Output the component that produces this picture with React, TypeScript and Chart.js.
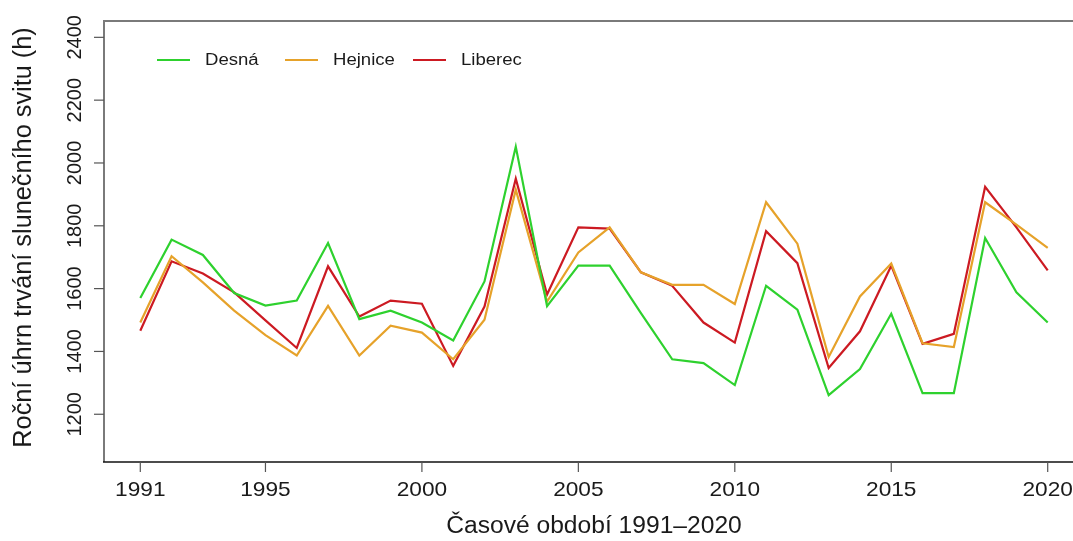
import React, { useEffect, useRef } from "react";
import { Chart, registerables } from "chart.js";

Chart.register(...registerables);

const years = [
  1991, 1992, 1993, 1994, 1995, 1996, 1997, 1998, 1999, 2000,
  2001, 2002, 2003, 2004, 2005, 2006, 2007, 2008, 2009, 2010,
  2011, 2012, 2013, 2014, 2015, 2016, 2017, 2018, 2019, 2020,
];
const desna = [
  1570, 1756, 1707, 1586, 1546, 1562, 1745, 1503, 1530, 1492,
  1435, 1623, 2052, 1544, 1673, 1673, 1522, 1375, 1363, 1293,
  1609, 1533, 1261, 1344, 1520, 1267, 1267, 1761, 1588, 1492,
];
const hejnice = [
  1492, 1703, 1620, 1530, 1452, 1387, 1545, 1387, 1482, 1460,
  1375, 1501, 1915, 1559, 1715, 1795, 1652, 1612, 1612, 1551,
  1875, 1743, 1382, 1575, 1680, 1426, 1414, 1875, 1804, 1730,
];
const liberec = [
  1466, 1687, 1648, 1588, 1499, 1411, 1671, 1511, 1562, 1552,
  1354, 1543, 1950, 1581, 1795, 1791, 1652, 1609, 1492, 1428,
  1783, 1681, 1347, 1464, 1673, 1424, 1456, 1924, 1795, 1658,
];
const seriesNames = ["Desná", "Hejnice", "Liberec"];
const seriesColors = ["#2ED12E", "#E6A22A", "#CC1A22"];
const yTicks = [1200, 1400, 1600, 1800, 2000, 2200, 2400];
const xTicks = [1991, 1995, 2000, 2005, 2010, 2015, 2020];
const xTitle = "Časové období 1991–2020";
const yTitle = "Roční úhrn trvání slunečního svitu (h)";

const FONT = "'Liberation Sans', Arial, sans-serif";

const axesPlugin = {
  id: "rAxes",
  afterDraw(chart: any) {
    const { ctx, chartArea } = chart;
    const xs = chart.scales.x;
    const ys = chart.scales.y;
    const { left, top, right, bottom } = chartArea;
    ctx.save();
    // box (grey) left & top & right
    ctx.strokeStyle = "#7a7a7a";
    ctx.lineWidth = 2;
    ctx.beginPath();
    ctx.moveTo(left, bottom);
    ctx.lineTo(left, top);
    ctx.lineTo(right, top);
    ctx.lineTo(right, bottom);
    ctx.stroke();
    // bottom axis line black
    ctx.strokeStyle = "#111";
    ctx.lineWidth = 1.5;
    ctx.beginPath();
    ctx.moveTo(left - 1, bottom);
    ctx.lineTo(right, bottom);
    ctx.stroke();

    // y ticks
    ctx.strokeStyle = "#555";
    ctx.lineWidth = 1.2;
    ctx.fillStyle = "#1a1a1a";
    ctx.textAlign = "center";
    ctx.textBaseline = "middle";
    ctx.font = `20px ${FONT}`;
    for (const v of yTicks) {
      const py = ys.getPixelForValue(v);
      ctx.beginPath();
      ctx.moveTo(left - 10, py);
      ctx.lineTo(left, py);
      ctx.stroke();
      ctx.save();
      ctx.translate(left - 29, py);
      ctx.rotate(-Math.PI / 2);
      ctx.fillText(String(v), 0, 0);
      ctx.restore();
    }
    // x ticks
    ctx.font = `21px ${FONT}`;
    for (const v of xTicks) {
      const px = xs.getPixelForValue(v);
      ctx.beginPath();
      ctx.moveTo(px, bottom);
      ctx.lineTo(px, bottom + 10);
      ctx.stroke();
      ctx.save();
      ctx.translate(px, bottom + 28);
      ctx.scale(1.08, 1);
      ctx.fillText(String(v), 0, 0);
      ctx.restore();
    }
    // titles
    ctx.save();
    ctx.font = `23px ${FONT}`;
    ctx.translate((left + right) / 2, bottom + 65);
    ctx.scale(1.07, 1);
    ctx.fillText(xTitle, 0, 0);
    ctx.restore();
    ctx.save();
    ctx.font = `25.3px ${FONT}`;
    ctx.translate(left - 80, (top + bottom) / 2 - 4);
    ctx.rotate(-Math.PI / 2);
    ctx.fillText(yTitle, 0, 0);
    ctx.restore();

    // legend
    const legY = top + 39;
    const legStarts = [157, 285, 413];
    ctx.font = `16px ${FONT}`;
    ctx.textAlign = "left";
    ctx.lineWidth = 2;
    seriesNames.forEach((name, i) => {
      const x0 = legStarts[i];
      ctx.strokeStyle = seriesColors[i];
      ctx.beginPath();
      ctx.moveTo(x0, legY);
      ctx.lineTo(x0 + 33, legY);
      ctx.stroke();
      ctx.fillStyle = "#1a1a1a";
      ctx.save();
      ctx.translate(x0 + 48, legY + 1);
      ctx.scale(1.16, 1);
      ctx.fillText(name, 0, 0);
      ctx.restore();
    });
    ctx.restore();
  },
};

export default function App() {
  const ref = useRef<HTMLCanvasElement | null>(null);
  useEffect(() => {
    if (!ref.current) return;
    const mk = (vals: number[]) => years.map((yr, i) => ({ x: yr, y: vals[i] }));
    const chart = new Chart(ref.current, {
      type: "line",
      data: {
        datasets: [desna, hejnice, liberec].map((vals, i) => ({
          label: seriesNames[i],
          data: mk(vals),
          borderColor: seriesColors[i],
          backgroundColor: seriesColors[i],
          borderWidth: 2.2,
          pointRadius: 0,
          tension: 0,
          fill: false,
        })),
      },
      options: {
        responsive: false,
        animation: false,
        devicePixelRatio: 1,
        layout: { padding: { left: 104, top: 21, right: 6, bottom: 79 } },
        plugins: { legend: { display: false }, tooltip: { enabled: false } },
        scales: {
          x: { type: "linear", min: 1989.84, max: 2021.16, display: false },
          y: { type: "linear", min: 1048, max: 2452, display: false },
        },
      },
      plugins: [axesPlugin],
    });
    return () => chart.destroy();
  }, []);
  return (
    <div
      style={{
        position: "fixed",
        left: 0,
        top: 0,
        width: 1073,
        height: 541,
        overflow: "hidden",
        background: "#fff",
      }}
    >
      <canvas ref={ref} width={1090} height={541} style={{ width: 1090, height: 541, display: "block" }} />
    </div>
  );
}
